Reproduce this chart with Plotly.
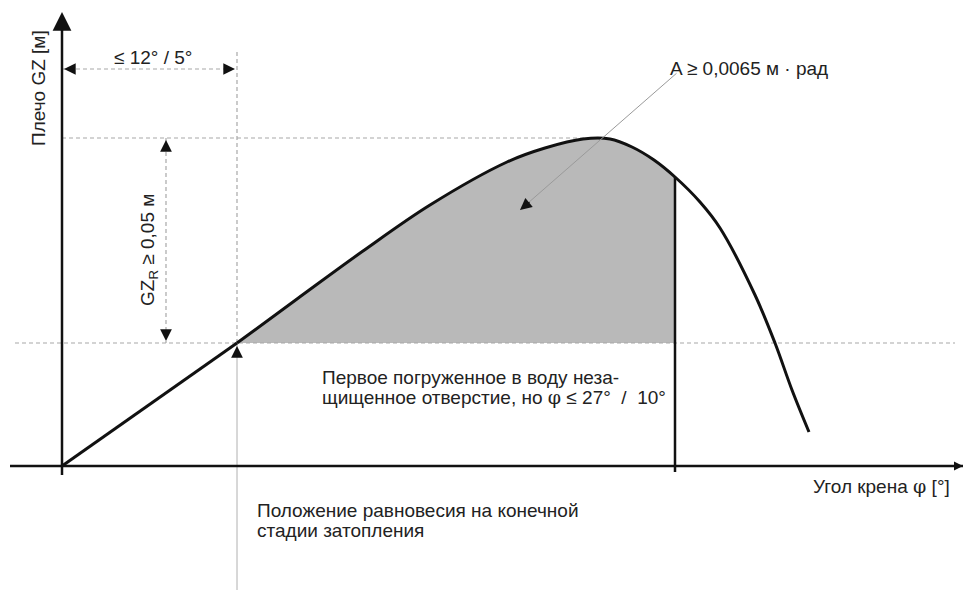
import plotly.graph_objects as go

# units: 1 unit ~ 1 px of the drawing, origin at the axes crossing
# straight initial part of the GZ curve
phi_lin = [0, 175]
gz_lin = [0, 123]
# curved part of the GZ curve
phi_curve = [175, 235, 301, 368, 445, 483, 521, 548, 570, 592, 613, 638, 658, 693, 713, 730, 747]
gz_curve = [123, 167, 215, 261, 304, 318, 327, 327, 319, 306, 289, 264, 238, 171, 123, 76, 34]

phi_eq = 175        # equilibrium angle, final stage of flooding
phi_open = 613      # first unprotected opening
gz_eq = 123         # GZ at equilibrium
gz_max = 328        # max GZ
y_dim = 397         # height of the angle dimension line
x_dim = 104         # position of the GZ_R dimension line

FONT = "Liberation Sans, Arial, sans-serif"
TXT = "#222222"
DOT = "#a8a8a8"
INK = "#111111"

fig = go.Figure()

# shaded area A
fig.add_trace(go.Scatter(x=[phi_eq, phi_open], y=[gz_eq, gz_eq], mode="lines",
                         line=dict(width=0), hoverinfo="skip"))
i_end = phi_curve.index(phi_open) + 1
fig.add_trace(go.Scatter(x=phi_curve[:i_end], y=gz_curve[:i_end], mode="lines",
                         line=dict(width=0, shape="spline"), fill="tonexty",
                         fillcolor="#b9b9b9", hoverinfo="skip"))

# dotted helper lines
def dotted(xs, ys, color=DOT, width=1.2, dash="4px,3px"):
    fig.add_trace(go.Scatter(x=xs, y=ys, mode="lines", hoverinfo="skip",
                             line=dict(color=color, width=width, dash=dash)))

dotted([0, 538], [gz_max, gz_max])
dotted([-47, 893], [gz_eq, gz_eq])
dotted([0, phi_eq], [y_dim, y_dim])
dotted([phi_eq, phi_eq], [414, gz_eq])
dotted([phi_eq, phi_eq], [gz_eq, -124], color="#b0b0b0", width=1, dash="solid")
dotted([x_dim, x_dim], [gz_max, gz_eq])

# axes
fig.add_trace(go.Scatter(x=[-52, 901], y=[0, 0], mode="lines",
                         line=dict(color=INK, width=2.5), hoverinfo="skip"))
fig.add_trace(go.Scatter(x=[0, 0], y=[-9, 440], mode="lines",
                         line=dict(color=INK, width=2.5), hoverinfo="skip"))

# opening line
fig.add_trace(go.Scatter(x=[phi_open, phi_open], y=[-6, 289], mode="lines",
                         line=dict(color=INK, width=2.5), hoverinfo="skip"))

# GZ curve
fig.add_trace(go.Scatter(x=phi_lin, y=gz_lin, mode="lines",
                         line=dict(color=INK, width=3), hoverinfo="skip"))
fig.add_trace(go.Scatter(x=phi_curve, y=gz_curve, mode="lines",
                         line=dict(color=INK, width=3, shape="spline"), hoverinfo="skip"))

def head(x, y, ax, ay, size=1.6, width=1.5, color=INK):
    fig.add_annotation(x=x, y=y, ax=ax, ay=ay, text="", showarrow=True,
                       arrowhead=2, arrowsize=size, arrowwidth=width,
                       arrowcolor=color, standoff=0)

# axis arrows
head(0, 454, 0, 20, size=1.5, width=2.5)
head(901, 0, -8, 0, size=1.2, width=1.5)
# dimension arrows
head(2, y_dim, 10, 0, size=1.8, width=1.3)
head(phi_eq - 2, y_dim, -10, 0, size=1.8, width=1.3)
head(x_dim, gz_max - 2, 0, 10, size=1.8, width=1.3)
head(x_dim, gz_eq + 2, 0, -10, size=1.8, width=1.3)
# equilibrium marker
head(phi_eq, gz_eq - 3, 0, 10, size=1.8, width=1.3)

# pointer to area A
fig.add_annotation(x=458, y=256, ax=616, ay=394, axref="x", ayref="y", text="",
                   showarrow=True, arrowhead=0, arrowwidth=1, arrowcolor="#9a9a9a")
head(458, 256, 11, -9, size=1.8, width=1.3)

def label(text, x, y, xanchor="left", angle=0):
    fig.add_annotation(x=x, y=y, text=text, showarrow=False, xanchor=xanchor,
                       yanchor="middle", textangle=angle,
                       font=dict(family=FONT, size=19, color=TXT))

PHI = "<span style='font-family:DejaVu Serif'>φ</span>"
label("≤ 12° / 5°", 91, 409, xanchor="center")
label("Плечо GZ [м]", -24, 378, xanchor="center", angle=-90)
label("GZ<sub>R</sub> ≥ 0,05 м", 87, 216, xanchor="center", angle=-90)
label("A ≥ 0,0065 м · рад", 606, 398)
label("Первое погруженное в воду неза-", 258, 89)
label("щищенное отверстие, но " + PHI + " ≤ 27°  /  10°", 258, 69)
label("Угол крена " + PHI + " [°]", 890, -20, xanchor="right")
label("Положение равновесия на конечной", 193, -44)
label("стадии затопления", 193, -64)

fig.update_layout(
    width=966, height=590, autosize=False,
    margin=dict(l=0, r=0, t=0, b=0),
    paper_bgcolor="white", plot_bgcolor="white",
    showlegend=False,
    xaxis=dict(range=[-62, 904], visible=False, fixedrange=True),
    yaxis=dict(range=[-124, 466], visible=False, fixedrange=True),
)

fig.write_html("out.html", config={"displayModeBar": False},
               post_script="document.body.style.margin='0';")
